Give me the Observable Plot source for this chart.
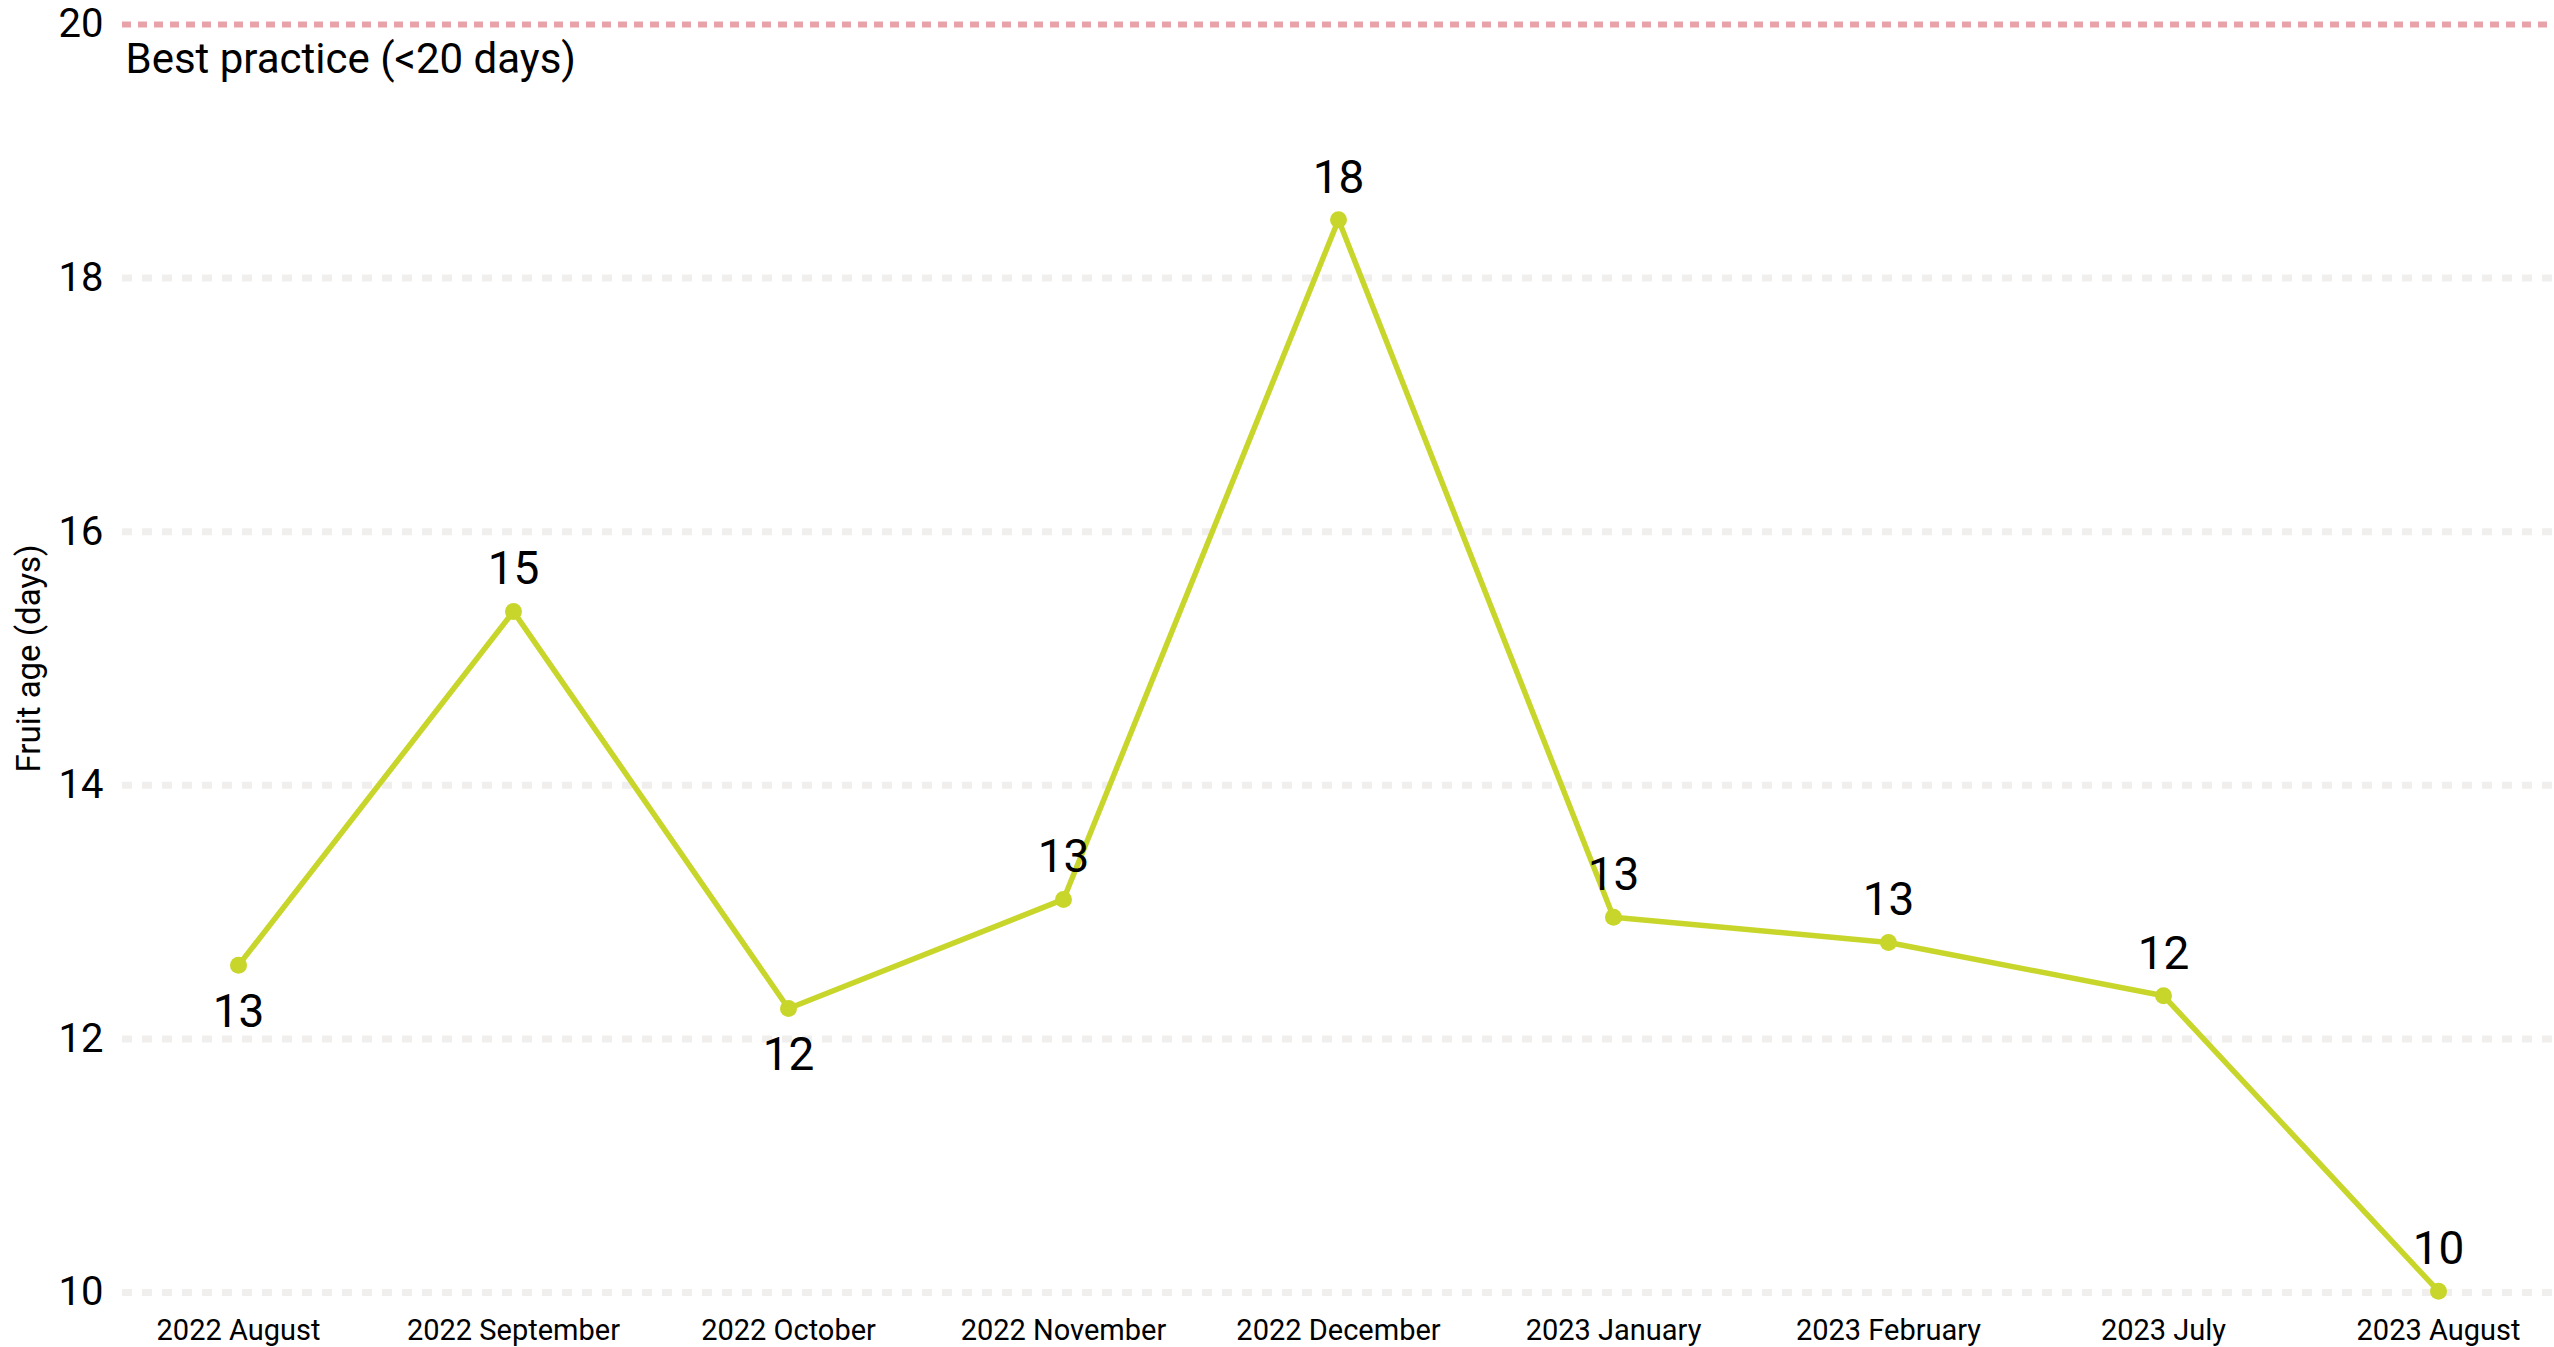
<!DOCTYPE html>
<html>
<head>
<meta charset="utf-8">
<script src="https://cdn.jsdelivr.net/npm/d3@7"></script>
<script src="https://cdn.jsdelivr.net/npm/@observablehq/plot@0.6"></script>
<style>
  html, body { margin: 0; padding: 0; background: #fff; overflow: hidden; }
  #chart svg { display: block; }
</style>
</head>
<body>
<div id="chart"></div>
<script>
const months = ["2022 August", "2022 September", "2022 October", "2022 November", "2022 December",
                "2023 January", "2023 February", "2023 July", "2023 August"];
const fruitAge = [12.58, 15.37, 12.24, 13.10, 18.46, 12.96, 12.76, 12.34, 10.01];
const yTicks = [10, 12, 14, 16, 18, 20];
const bestPractice = 20;
const bestPracticeLabel = "Best practice (<20 days)";
const yTitle = "Fruit age (days)";

const data = months.map((m, i) => ({month: m, value: fruitAge[i]}));
const yMin = yTicks[0];
// label below the point at local minima (except near the axis floor)
const isBelow = (d, i) => {
  const prev = i > 0 ? fruitAge[i - 1] : Infinity;
  const next = i < fruitAge.length - 1 ? fruitAge[i + 1] : Infinity;
  return d.value < prev && d.value < next && d.value - yMin > 1;
};
const above = data.filter((d, i) => !isBelow(d, i));
const below = data.filter((d, i) => isBelow(d, i));

const lineColor = "#c8d62b";

const chart = Plot.plot({
  width: 2554,
  height: 1347,
  marginTop: 24,
  marginBottom: 55,
  marginLeft: 122,
  marginRight: 0,
  style: {fontFamily: "Roboto, 'DejaVu Sans', sans-serif", background: "#fff", color: "#000"},
  x: {type: "point", domain: months, padding: 0.41, label: null},
  y: {domain: [10, 20], label: null},
  marks: [
    Plot.ruleY(yTicks.filter(t => t !== bestPractice), {stroke: "#f1efed", strokeWidth: 7, strokeDasharray: "10,10"}),
    Plot.ruleY([bestPractice], {stroke: "#e8a3aa", strokeWidth: 6, strokeDasharray: "9,7"}),
    Plot.axisY({ticks: yTicks, tickSize: 0, tickPadding: 19, fontSize: 40, label: null, fill: "#000"}),
    Plot.axisX({tickSize: 0, tickPadding: 27, fontSize: 29, label: null, fill: "#000"}),
    Plot.text([yTitle], {frameAnchor: "left", textAnchor: "middle", lineAnchor: "middle", rotate: -90, dx: -93, fontSize: 33, fill: "#000"}),
    Plot.text([bestPracticeLabel], {frameAnchor: "top-left", textAnchor: "start", lineAnchor: "middle", dx: 3, dy: 35, fontSize: 42, fill: "#000"}),
    Plot.line(data, {x: "month", y: "value", stroke: lineColor, strokeWidth: 5.5}),
    Plot.dot(data, {x: "month", y: "value", r: 8.5, fill: lineColor, stroke: "none"}),
    Plot.text(above, {x: "month", y: "value", text: d => Math.round(d.value), dy: -42, fontSize: 46, fill: "#000"}),
    Plot.text(below, {x: "month", y: "value", text: d => Math.round(d.value), dy: 47, fontSize: 46, fill: "#000"})
  ]
});
document.getElementById("chart").append(chart);
</script>
</body>
</html>
